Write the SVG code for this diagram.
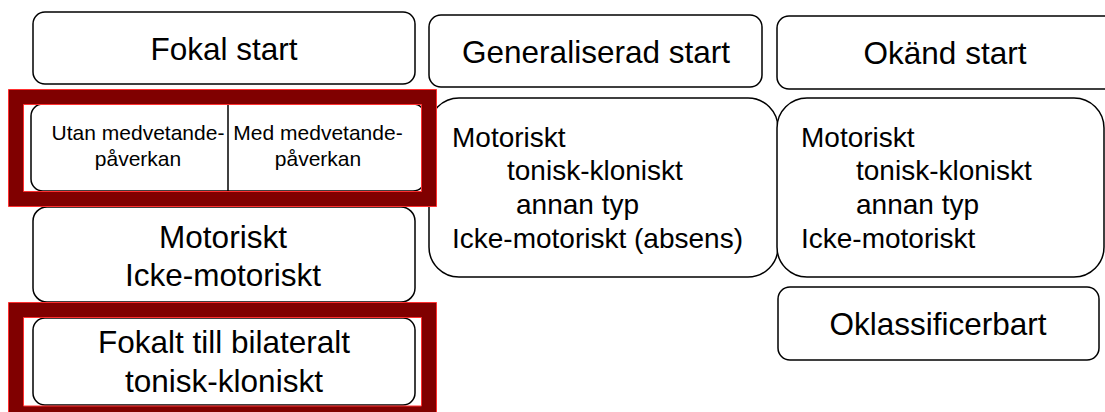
<svg xmlns="http://www.w3.org/2000/svg" width="1105" height="412" viewBox="0 0 1105 412">
<style>
.box{fill:#fff;stroke:#000;stroke-width:1.5}
.t{font-family:"Liberation Sans",Arial,sans-serif;fill:#000}
.big{font-size:31.5px}
.mid{font-size:28px}
.sm{font-size:21px}
.frame{fill:#800000;fill-rule:evenodd;stroke:#ff3030;stroke-width:1}
</style>
<rect width="1105" height="412" fill="#fff"/>
<g id="fokal-start">
<rect class="box" x="33" y="12" width="382" height="72" rx="12"/>
<text class="t big" x="224" y="60" text-anchor="middle">Fokal start</text>
</g>
<g id="generaliserad-start">
<rect class="box" x="429" y="15" width="333" height="72" rx="12"/>
<text class="t big" x="596" y="63" text-anchor="middle">Generaliserad start</text>
</g>
<g id="okand-start">
<rect class="box" x="777" y="16" width="340" height="73" rx="12"/>
<text class="t big" x="945" y="64" text-anchor="middle">Okänd start</text>
</g>
<g id="medvetande">
<rect class="box" x="31" y="104" width="394" height="87" rx="12"/>
<line x1="228" y1="104" x2="228" y2="191" stroke="#000" stroke-width="1.5"/>
<text class="t sm" text-anchor="middle"><tspan x="138" y="140">Utan medvetande-</tspan><tspan x="138" y="166">påverkan</tspan></text>
<text class="t sm" text-anchor="middle"><tspan x="318" y="140">Med medvetande-</tspan><tspan x="318" y="166">påverkan</tspan></text>
</g>
<g id="fokal-motor">
<rect class="box" x="33" y="207" width="382" height="95" rx="14"/>
<text class="t big" text-anchor="middle"><tspan x="223" y="248">Motoriskt</tspan><tspan x="223" y="286">Icke-motoriskt</tspan></text>
</g>
<g id="fokal-bilateral">
<rect class="box" x="33" y="318" width="382" height="87" rx="12"/>
<text class="t big" text-anchor="middle"><tspan x="224" y="353">Fokalt till bilateralt</tspan><tspan x="224" y="392">tonisk-kloniskt</tspan></text>
</g>
<g id="gen-typer">
<rect class="box" x="429" y="98" width="349" height="179" rx="30"/>
<text class="t mid"><tspan x="452" y="147">Motoriskt</tspan><tspan x="507" y="180">tonisk-kloniskt</tspan><tspan x="516" y="214">annan typ</tspan><tspan x="452" y="248">Icke-motoriskt (absens)</tspan></text>
</g>
<g id="okand-typer">
<rect class="box" x="777" y="98" width="327" height="179" rx="30"/>
<text class="t mid"><tspan x="801" y="147">Motoriskt</tspan><tspan x="856" y="180">tonisk-kloniskt</tspan><tspan x="856" y="214">annan typ</tspan><tspan x="801" y="248">Icke-motoriskt</tspan></text>
</g>
<g id="oklassificerbart">
<rect class="box" x="778" y="287" width="321" height="73" rx="12"/>
<text class="t big" x="938" y="335" text-anchor="middle">Oklassificerbart</text>
</g>
<g id="highlight-frames">
<path class="frame" d="M8.5,89.5H436.5V206.5H8.5Z M23.5,104.5H421.5V191.5H23.5Z"/>
<path class="frame" d="M8.5,302.5H436.5V422H8.5Z M23.5,317.5H421.5V406H23.5Z"/>
</g>
<g id="connectors"></g>
</svg>
